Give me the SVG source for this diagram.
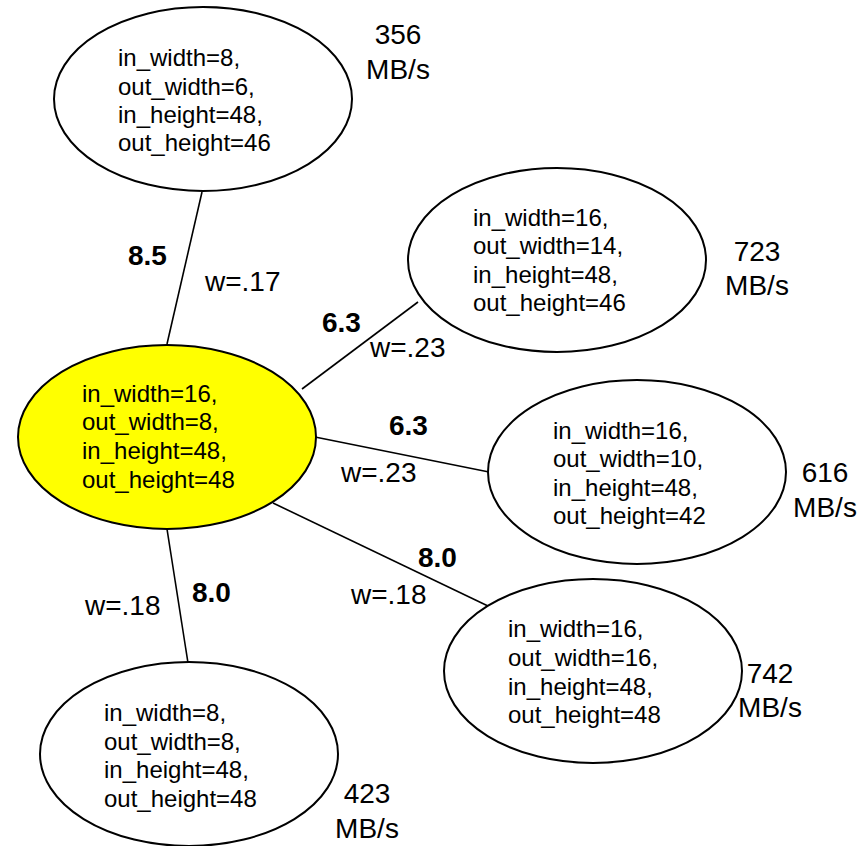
<svg xmlns="http://www.w3.org/2000/svg" width="863" height="846" viewBox="0 0 863 846">
  <style>
    .node ellipse { fill: #ffffff; stroke: #000000; stroke-width: 2; }
    .node.root ellipse { fill: #ffff00; }
    .node text { font-family: "Liberation Sans", Arial, sans-serif; font-size: 24px; fill: #000000; }
    .node text.rate { font-size: 28px; text-anchor: middle; }
    .edges line { stroke: #000000; stroke-width: 1.6; }
    .cost { font-family: "Liberation Sans", Arial, sans-serif; font-size: 28px; font-weight: bold; fill: #000000; }
    .weight { font-family: "Liberation Sans", Arial, sans-serif; font-size: 28px; fill: #000000; }
  </style>

  <!-- connectors between the root configuration and its neighbours -->
  <g id="edges" class="edges">
    <line x1="202" y1="192" x2="167" y2="344"/>
    <line x1="302" y1="389" x2="418" y2="302"/>
    <line x1="315" y1="437" x2="489" y2="472"/>
    <line x1="273" y1="503" x2="488" y2="606"/>
    <line x1="167" y1="529" x2="188" y2="663"/>
  </g>

  <!-- edge labels: cost (bold) and weight -->
  <g id="edge-labels">
    <text class="cost" x="128" y="265">8.5</text>
    <text class="weight" x="205" y="291">w=.17</text>
    <text class="cost" x="322" y="332">6.3</text>
    <text class="weight" x="370" y="357">w=.23</text>
    <text class="cost" x="389" y="435">6.3</text>
    <text class="weight" x="341" y="482">w=.23</text>
    <text class="cost" x="418" y="567">8.0</text>
    <text class="weight" x="351" y="604">w=.18</text>
    <text class="cost" x="192" y="602">8.0</text>
    <text class="weight" x="85" y="615">w=.18</text>
  </g>

  <g id="node-root" class="node root">
    <ellipse cx="167" cy="437" rx="149" ry="92"/>
    <text x="82" y="402">in_width=16,</text>
    <text x="82" y="430">out_width=8,</text>
    <text x="82" y="459">in_height=48,</text>
    <text x="82" y="488">out_height=48</text>
  </g>

  <g id="node-top" class="node">
    <ellipse cx="203" cy="99" rx="149" ry="92"/>
    <text x="118" y="66">in_width=8,</text>
    <text x="118" y="95">out_width=6,</text>
    <text x="118" y="123">in_height=48,</text>
    <text x="118" y="151">out_height=46</text>
    <text class="rate" x="398" y="44">356</text>
    <text class="rate" x="398" y="79">MB/s</text>
  </g>

  <g id="node-upper-right" class="node">
    <ellipse cx="557" cy="260" rx="149" ry="92"/>
    <text x="473" y="226">in_width=16,</text>
    <text x="473" y="254">out_width=14,</text>
    <text x="473" y="283">in_height=48,</text>
    <text x="473" y="311">out_height=46</text>
    <text class="rate" x="757" y="261">723</text>
    <text class="rate" x="757" y="295">MB/s</text>
  </g>

  <g id="node-right" class="node">
    <ellipse cx="637" cy="472" rx="149" ry="92"/>
    <text x="553" y="439">in_width=16,</text>
    <text x="553" y="467">out_width=10,</text>
    <text x="553" y="496">in_height=48,</text>
    <text x="553" y="524">out_height=42</text>
    <text class="rate" x="825" y="482">616</text>
    <text class="rate" x="825" y="517">MB/s</text>
  </g>

  <g id="node-lower-right" class="node">
    <ellipse cx="593" cy="671" rx="149" ry="92"/>
    <text x="508" y="637">in_width=16,</text>
    <text x="508" y="666">out_width=16,</text>
    <text x="508" y="695">in_height=48,</text>
    <text x="508" y="723">out_height=48</text>
    <text class="rate" x="770" y="683">742</text>
    <text class="rate" x="770" y="717">MB/s</text>
  </g>

  <g id="node-bottom" class="node">
    <ellipse cx="189" cy="754" rx="149" ry="92"/>
    <text x="104" y="721">in_width=8,</text>
    <text x="104" y="750">out_width=8,</text>
    <text x="104" y="778">in_height=48,</text>
    <text x="104" y="807">out_height=48</text>
    <text class="rate" x="367" y="803">423</text>
    <text class="rate" x="367" y="838">MB/s</text>
  </g>
</svg>
